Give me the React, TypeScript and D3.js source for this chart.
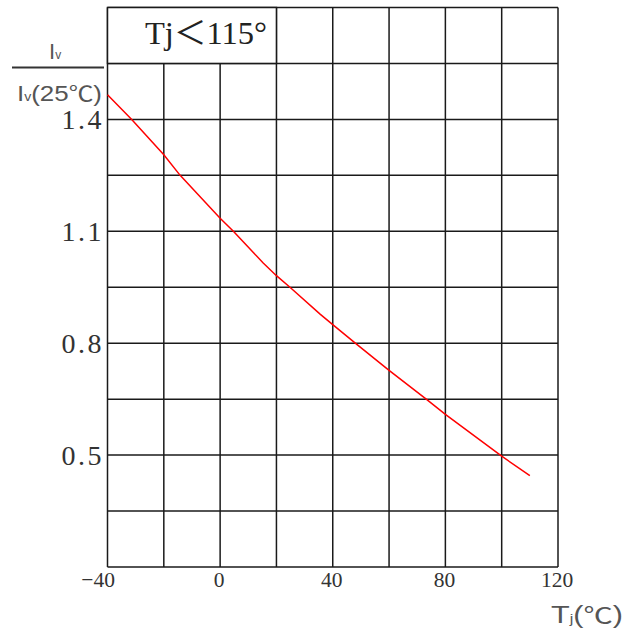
import React from "react";
import * as d3 from "d3";

const tempX = [-40, -31.4, -20, -14.2, 0, 4.7, 15.3, 20, 24.8, 35.5, 40, 48, 60, 73.2, 80, 100, 110];
const ratioY = [1.466, 1.4, 1.305, 1.25, 1.135, 1.1, 1.015, 0.981, 0.95, 0.878, 0.85, 0.8, 0.727, 0.65, 0.609, 0.497, 0.445];
const xTickLabels = [-40, 0, 40, 80, 120];
const yTickLabels = [0.5, 0.8, 1.1, 1.4];
const titleText = "Tj＜115°";

export default function App() {
  const W = 634, H = 636;
  const x = d3.scaleLinear().domain([-40, 120]).range([107.5, 558]);
  const y = d3.scaleLinear().domain([0.2, 1.7]).range([567, 7.5]);
  const xGrid = d3.range(-40, 121, 20);
  const yGrid = d3.range(0, 11).map((i) => 0.2 + i * 0.15);
  const line = d3.line<number>().x((d, i) => x(tempX[i])).y((d) => y(d));
  const fmtX = d3.format("d");
  const gridColor = "#1a1a1a";
  const cjk = "'Noto Sans CJK SC', sans-serif";
  return (
    <svg width={W} height={H} style={{ position: "absolute", left: 0, top: 0, background: "#fff" }}>
      <rect x={0} y={0} width={W} height={H} fill="#fff" />
      {xGrid.map((v) => (
        <line key={"vx" + v} x1={x(v)} x2={x(v)} y1={y(1.7)} y2={y(0.2)} stroke={gridColor} strokeWidth={1.5} />
      ))}
      {yGrid.map((v, i) => (
        <line key={"hy" + i} x1={x(-40)} x2={x(120)} y1={y(v)} y2={y(v)} stroke={gridColor} strokeWidth={1.5} />
      ))}
      <rect x={x(-40)} y={y(1.7)} width={x(20) - x(-40)} height={y(1.55) - y(1.7)} fill="#fff" stroke={gridColor} strokeWidth={1.5} />
      <text x={145} y={43.5} fontFamily="'Liberation Serif', 'Noto Sans CJK JP', serif" fontSize={32} fill="#222" textLength={122} lengthAdjust="spacingAndGlyphs">
        {titleText}
      </text>
      <path d={line(ratioY) || ""} fill="none" stroke="#ff0000" strokeWidth={1.5} />
      {yTickLabels.map((v) => (
        <text key={"yl" + v} x={101.5} y={y(v) + 9.5} textAnchor="end" fontFamily="'Liberation Serif', serif" fontSize={28} fill="#333" textLength={40} lengthAdjust="spacing">
          {v.toFixed(1)}
        </text>
      ))}
      {xTickLabels.map((v) => (
        <text key={"xl" + v} x={v < 0 ? x(v) + 7.5 : x(v) - 1} y={587} textAnchor={v < 0 ? "end" : "middle"} fontFamily="'Liberation Serif', serif" fontSize={21.5} fill="#333">
          {fmtX(v)}
        </text>
      ))}
      <g fontFamily="'Liberation Sans', Arial, sans-serif" fill="#555">
        <text x={49} y={59} fontSize={22}>
          I<tspan fontSize={12}>v</tspan>
        </text>
        <line x1={12} x2={104} y1={67.5} y2={67.5} stroke="#333" strokeWidth={2} />
        <text x={17} y={100.5} fontSize={22} textLength={85} lengthAdjust="spacingAndGlyphs">
          I<tspan fontSize={12}>v</tspan>
          <tspan fontSize={22}>(25</tspan>
          <tspan fontSize={21} fontFamily={cjk}>℃</tspan>
          <tspan fontSize={22}>)</tspan>
        </text>
        <text x={551} y={623} fontSize={23} textLength={72} lengthAdjust="spacingAndGlyphs">
          T<tspan fontSize={12}>j</tspan>
          <tspan fontSize={23}>(</tspan>
          <tspan fontSize={22} fontFamily={cjk}>℃</tspan>
          <tspan fontSize={23}>)</tspan>
        </text>
      </g>
    </svg>
  );
}
